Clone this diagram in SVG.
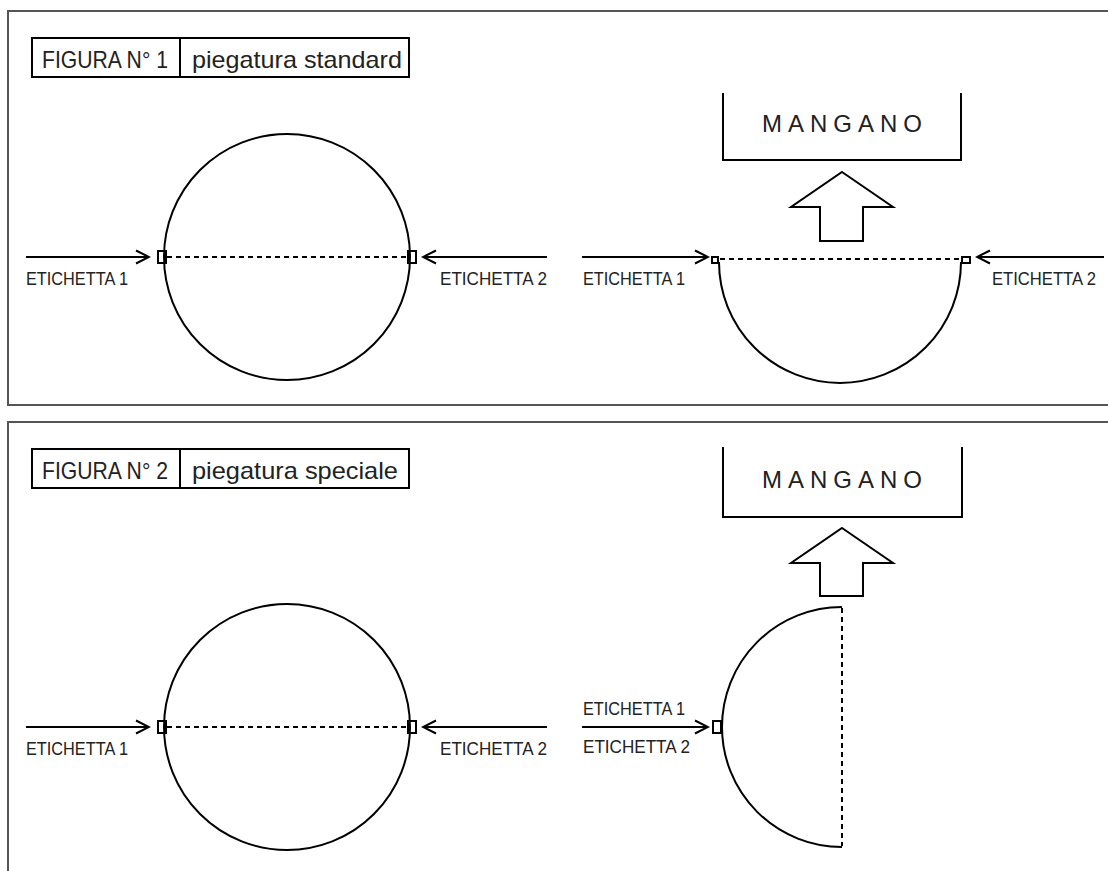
<svg xmlns="http://www.w3.org/2000/svg" width="1108" height="871" viewBox="0 0 1108 871">
<defs>
<style>
.frame{fill:none;stroke:#555;stroke-width:2}
.ln{fill:none;stroke:#000;stroke-width:2}
.dash{fill:none;stroke:#000;stroke-width:2;stroke-dasharray:5 4}
.t{font-family:"Liberation Sans",Arial,sans-serif;fill:#222}
.lab{font-size:18.5px}
.tit{font-size:24px}
.man{font-size:24px}
</style>
<marker id="ah" markerUnits="userSpaceOnUse" markerWidth="16" markerHeight="16" refX="14" refY="7.5" orient="auto" viewBox="0 0 16 15">
<path d="M1,1 L14,7.5 L1,14" fill="none" stroke="#000" stroke-width="2"/>
</marker>
</defs>
<rect width="1108" height="871" fill="#fff"/>

<g id="frames">
<path class="frame" d="M1110,11 H8 V405 H1110"/>
<path class="frame" d="M1110,422 H8 V873"/>
</g>

<g id="title1">
<rect class="ln" x="32" y="38" width="377" height="39" stroke-width="1.5"/>
<line class="ln" x1="180" y1="38" x2="180" y2="77" stroke-width="1.5"/>
<text class="t tit" x="42" y="68" textLength="126" lengthAdjust="spacingAndGlyphs">FIGURA N° 1</text>
<text class="t tit" x="192" y="68" textLength="210" lengthAdjust="spacingAndGlyphs">piegatura standard</text>
</g>

<g id="title2">
<rect class="ln" x="32" y="449" width="377" height="39" stroke-width="1.5"/>
<line class="ln" x1="180" y1="449" x2="180" y2="488" stroke-width="1.5"/>
<text class="t tit" x="42" y="479" textLength="126" lengthAdjust="spacingAndGlyphs">FIGURA N° 2</text>
<text class="t tit" x="192" y="479" textLength="206" lengthAdjust="spacingAndGlyphs">piegatura speciale</text>
</g>

<g id="circle1">
<circle class="ln" cx="287" cy="257" r="123"/>
<rect class="ln" x="158" y="251" width="8" height="12"/>
<rect class="ln" x="408" y="251" width="8" height="12"/>
<line class="dash" x1="167" y1="257" x2="407" y2="257"/>
</g>

<g id="halfcircle1">
<path class="ln" d="M719,262 A121,121 0 0 0 961,262"/>
<rect class="ln" x="712" y="257" width="6" height="6" stroke-width="1.5"/>
<rect class="ln" x="962" y="257" width="8" height="6" stroke-width="1.5"/>
<line class="dash" x1="720" y1="259" x2="961" y2="259"/>
</g>

<g id="mangano1">
<path class="ln" d="M723,93 V160 H961 V93"/>
<text class="t man" x="762" y="132" textLength="160" lengthAdjust="spacing">MANGANO</text>
<path class="ln" d="M842,172 L893,207 H863 V241 H820 V207 H791 Z"/>
</g>

<g id="circle2">
<circle class="ln" cx="287" cy="727" r="123"/>
<rect class="ln" x="158" y="721" width="8" height="12"/>
<rect class="ln" x="408" y="721" width="8" height="12"/>
<line class="dash" x1="167" y1="727" x2="407" y2="727"/>
</g>

<g id="halfcircle2">
<path class="ln" d="M842,607 A120,120 0 0 0 842,847"/>
<rect class="ln" x="713" y="721" width="8" height="12"/>
<line class="dash" x1="842" y1="608" x2="842" y2="846" stroke-dasharray="6 4"/>
</g>

<g id="mangano2">
<path class="ln" d="M723,447 V517 H962 V447"/>
<text class="t man" x="762" y="488" textLength="160" lengthAdjust="spacing">MANGANO</text>
<path class="ln" d="M842,528 L893,563 H863 V596 H820 V563 H791 Z"/>
</g>

<g id="connectors">
<line class="ln" x1="26" y1="257" x2="149" y2="257" marker-end="url(#ah)"/>
<line class="ln" x1="547" y1="257" x2="423" y2="257" marker-end="url(#ah)"/>
<line class="ln" x1="582" y1="257" x2="708" y2="257" marker-end="url(#ah)"/>
<line class="ln" x1="1104" y1="257" x2="977" y2="257" marker-end="url(#ah)"/>
<line class="ln" x1="26" y1="727" x2="149" y2="727" marker-end="url(#ah)"/>
<line class="ln" x1="547" y1="727" x2="423" y2="727" marker-end="url(#ah)"/>
<line class="ln" x1="582" y1="727" x2="708" y2="727" marker-end="url(#ah)"/>
</g>

<g id="labels">
<text class="t lab" x="26" y="285" textLength="102" lengthAdjust="spacingAndGlyphs">ETICHETTA 1</text>
<text class="t lab" x="440" y="285" textLength="107" lengthAdjust="spacingAndGlyphs">ETICHETTA 2</text>
<text class="t lab" x="583" y="285" textLength="102" lengthAdjust="spacingAndGlyphs">ETICHETTA 1</text>
<text class="t lab" x="992" y="285" textLength="104" lengthAdjust="spacingAndGlyphs">ETICHETTA 2</text>
<text class="t lab" x="26" y="755" textLength="102" lengthAdjust="spacingAndGlyphs">ETICHETTA 1</text>
<text class="t lab" x="440" y="755" textLength="107" lengthAdjust="spacingAndGlyphs">ETICHETTA 2</text>
<text class="t lab" x="583" y="715" textLength="102" lengthAdjust="spacingAndGlyphs">ETICHETTA 1</text>
<text class="t lab" x="583" y="753" textLength="107" lengthAdjust="spacingAndGlyphs">ETICHETTA 2</text>
</g>
</svg>
